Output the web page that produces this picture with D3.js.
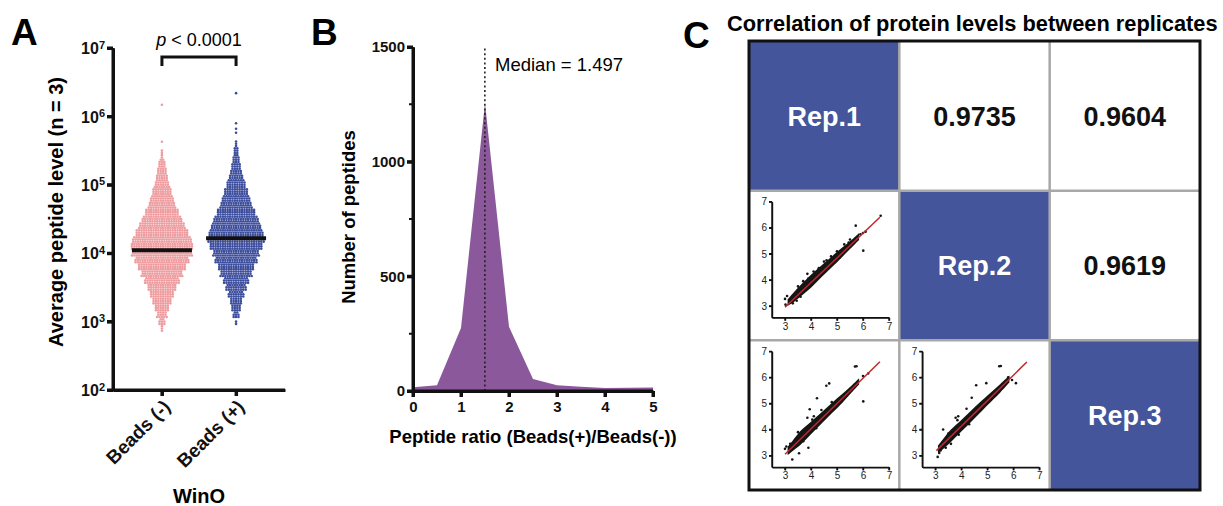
<!DOCTYPE html>
<html>
<head>
<meta charset="utf-8">
<script src="https://cdn.jsdelivr.net/npm/d3@7"></script>
<style>
body { margin: 0; background: #fff; }
svg { display: block; font-family: Arial, "Liberation Sans", sans-serif; color: #111; }
</style>
</head>
<body>
<svg id="fig" width="1223" height="506"></svg>
<script>
// ---- panel A data: beeswarm counts per log10 bin ----
const groups = ["Beads (-)", "Beads (+)"]
const binLog = [2.9, 3.0, 3.1, 3.2, 3.3, 3.4, 3.5, 3.6, 3.7, 3.8, 3.9, 4.0, 4.1, 4.2, 4.3, 4.4, 4.5, 4.6, 4.7, 4.8, 4.9, 5.0, 5.1, 5.2, 5.3, 5.4, 5.5, 5.6]
const countsMinus = [3, 8, 13, 18, 24, 30, 36, 44, 52, 60, 68, 76, 78, 74, 66, 58, 50, 42, 34, 29, 24, 19, 15, 12, 9, 4, 2, 0]
const countsPlus = [0, 2, 8, 12, 15, 20, 26, 32, 40, 45, 53, 58, 66, 71, 68, 62, 56, 48, 40, 35, 30, 24, 19, 14, 11, 8, 6, 3]
const outliersMinus = [5.63, 6.17]
const outliersPlus = [5.76, 5.82, 5.9, 6.34]
const medians = [1.1e4, 1.66e4]
const levelTicks = [1e2, 1e3, 1e4, 1e5, 1e6, 1e7]

// ---- panel B data ----
const ratioX = [0, 0.5, 1, 1.5, 2, 2.5, 3, 3.5, 4, 4.5, 5]
const ratioCount = [16, 25, 275, 1255, 280, 52, 25, 19, 13, 14, 15]
const ratioMedian = 1.497
const countTicks = [0, 500, 1000, 1500]
const countMinor = [250, 750, 1250]
const ratioTicks = [0, 1, 2, 3, 4, 5]

// ---- panel C data ----
const reps = ["Rep.1", "Rep.2", "Rep.3"]
const corrRow = [0, 0, 1]
const corrCol = [1, 2, 2]
const corrValue = ["0.9735", "0.9604", "0.9619"]

const scatterRow = [1, 2, 2]
const scatterCol = [0, 0, 1]
const bandX = [3.1, 3.3, 3.6, 4.0, 4.4, 4.8, 5.2, 5.5, 5.85]
const bandLo = [
  [3.0, 3.12, 3.36, 3.7, 4.1, 4.48, 4.88, 5.18, 5.53],
  [3.02, 3.18, 3.42, 3.82, 4.22, 4.62, 5.02, 5.35, 5.73],
  [3.08, 3.25, 3.52, 3.92, 4.32, 4.72, 5.12, 5.42, 5.8]
]
const bandHi = [
  [3.25, 3.48, 3.8, 4.2, 4.55, 4.9, 5.24, 5.48, 5.8],
  [3.33, 3.58, 3.95, 4.3, 4.65, 5.02, 5.36, 5.63, 5.97],
  [3.38, 3.64, 4.0, 4.37, 4.75, 5.12, 5.48, 5.75, 6.07]
]
const scatterPts = [
  [[3.0,3.27],[3.08,3.38],[3.02,3.05],[3.5,3.75],[3.86,4.23],[3.7,3.95],[4.1,4.32],[4.3,4.45],[4.6,4.75],[4.77,4.9],[5.0,5.1],[5.28,5.36],[5.45,5.43],[5.5,5.55],[5.72,6.08],[6.01,5.12],[6.0,5.8],[6.1,5.85],[6.68,6.46],[3.3,3.1],[3.45,3.2],[3.6,3.35],[4.2,4.0],[5.1,4.85],[5.9,5.75],[4.5,4.7],[3.9,4.05]],
  [[5.69,6.42],[5.75,6.43],[6.01,5.08],[4.59,5.68],[4.7,5.77],[4.23,5.2],[3.95,4.78],[3.86,4.45],[4.05,4.38],[4.11,4.51],[3.28,2.85],[3.54,3.09],[3.9,3.3],[3.0,3.26],[3.05,3.35],[3.5,3.9],[4.4,4.75],[4.8,5.05],[5.0,5.05],[5.3,5.35],[6.0,6.05],[6.2,6.15],[3.7,3.55],[4.2,4.05],[3.2,3.45],[5.6,5.6]],
  [[5.46,6.43],[5.52,6.44],[6.1,5.78],[4.96,5.78],[4.57,5.7],[4.4,5.22],[4.2,4.8],[3.78,4.45],[3.88,4.51],[3.85,4.36],[3.3,4.0],[3.09,2.95],[3.2,3.2],[3.15,3.1],[3.4,3.3],[3.6,3.45],[3.9,3.8],[4.1,4.3],[4.6,4.85],[5.0,5.2],[5.7,5.8],[5.8,6.0],[5.95,5.9],[3.5,3.85],[4.3,4.2]]
]
const fitLines = [
  [[3.0, 2.95], [6.65, 6.4]],
  [[3.0, 3.05], [6.65, 6.6]],
  [[3.04, 3.19], [6.52, 6.59]]
]
const insetTicks = [3, 4, 5, 6, 7]

const svg = d3.select("#fig")
svg.append("rect").attr("width", 1223).attr("height", 506).attr("fill", "#fff")

const axisJobs = []

function styleAxis(g, w) {
  g.select(".domain").attr("stroke", "#111").attr("stroke-width", w)
  g.selectAll(".tick line").attr("stroke", "#111").attr("stroke-width", w)
}

// axis line + ticks as one stroked path per axis, positioned from the scale
function axisPath(parent, orient, scale, vals, pos, size, w) {
  const r = scale.range()
  const lo = Math.min(r[0], r[r.length - 1]), hi = Math.max(r[0], r[r.length - 1])
  let d
  if (orient === "left") {
    d = `M${pos},${lo}V${hi}` + vals.map(v => `M${pos - size},${scale(v)}H${pos}`).join("")
  } else {
    d = `M${lo},${pos}H${hi}` + vals.map(v => `M${scale(v)},${pos}V${pos + size}`).join("")
  }
  parent.append("path").attr("d", d)
    .attr("fill", "none").attr("stroke", "#111").attr("stroke-width", w)
}

// panel letters
svg.append("text").attr("x", 11).attr("y", 45).text("A")
  .attr("font-size", 37).attr("font-weight", "bold")
svg.append("text").attr("x", 311).attr("y", 45).text("B")
  .attr("font-size", 37).attr("font-weight", "bold")
svg.append("text").attr("x", 683).attr("y", 48).text("C")
  .attr("font-size", 37).attr("font-weight", "bold")

// =============== A ===============
const xA = d3.scalePoint().domain(groups).range([113, 285]).padding(0.66)
const yA = d3.scaleLog().domain([1e2, 1e7]).range([390, 48])
const gA = svg.append("g")

function swarm(counts, outliers, group) {
  const dots = []
  const pitch = 2.4
  counts.forEach((c, i) => {
    const base = Math.floor(c / 3), extra = c % 3
    for (let r = 0; r < 3; r++) {
      const n = base + (r < extra ? 1 : 0)
      const lv = binLog[i] - 0.05 + (r + 0.5) * 0.1 / 3
      for (let k = 0; k < n; k++) {
        dots.push({ x: xA(group) + (k - (n - 1) / 2) * pitch, y: yA(Math.pow(10, lv)) })
      }
    }
  })
  outliers.forEach(v => dots.push({ x: xA(group), y: yA(Math.pow(10, v)) }))
  return dots
}

const swarmColors = ["#ee9da0", "#3d4e9d"]
const swarmData = [swarm(countsMinus, outliersMinus, groups[0]), swarm(countsPlus, outliersPlus, groups[1])]
swarmData.forEach((dots, i) => {
  gA.append("g").selectAll("circle").data(dots).join("circle")
    .attr("cx", d => d.x).attr("cy", d => d.y).attr("r", 1.3)
    .attr("fill", swarmColors[i])
})

gA.selectAll(".med").data(medians).join("line")
  .attr("x1", (d, i) => xA(groups[i]) - 30).attr("x2", (d, i) => xA(groups[i]) + 30)
  .attr("y1", d => yA(d)).attr("y2", d => yA(d))
  .attr("stroke", "#111").attr("stroke-width", 4)

const gyA = gA.append("g").attr("transform", "translate(113,0)")
  .call(d3.axisLeft(yA).tickValues(levelTicks).tickFormat(() => "").tickSize(6).tickSizeOuter(0))
styleAxis(gyA, 3)
const lbl = gyA.selectAll(".tick").append("text")
  .attr("x", -8).attr("dy", "0.35em").attr("text-anchor", "end")
  .attr("fill", "#111").attr("font-size", 16).attr("font-weight", "bold")
lbl.append("tspan").text("10")
lbl.append("tspan").attr("dy", "-0.5em").attr("font-size", 11).text(d => Math.round(Math.log10(d)))
axisJobs.push(["left", yA, levelTicks, 113, 6, 3])

const gxA = gA.append("g").attr("transform", "translate(0,390)")
  .call(d3.axisBottom(xA).tickFormat(() => "").tickSize(6).tickSizeOuter(0))
styleAxis(gxA, 3)
gxA.selectAll(".tick").append("text")
  .attr("transform", "translate(9,18) rotate(-45)")
  .attr("text-anchor", "end").attr("fill", "#111")
  .attr("font-size", 19).attr("font-weight", "bold")
  .text(d => d)
axisJobs.push(["bottom", xA, groups, 390, 6, 3])

gA.append("text").attr("transform", "translate(63,212) rotate(-90)")
  .attr("text-anchor", "middle").attr("font-size", 20).attr("font-weight", "bold")
  .text("Average peptide level (n = 3)")
gA.append("text").attr("x", 199).attr("y", 503)
  .attr("text-anchor", "middle").attr("font-size", 20).attr("font-weight", "bold")
  .text("WinO")

gA.append("path").attr("d", `M${xA(groups[0])},66V57H${xA(groups[1])}V66`)
  .attr("fill", "none").attr("stroke", "#111").attr("stroke-width", 3)
const pt = gA.append("text").attr("x", 199).attr("y", 46)
  .attr("text-anchor", "middle").attr("font-size", 18)
pt.append("tspan").attr("font-style", "italic").text("p")
pt.append("tspan").text(" < 0.0001")

// =============== B ===============
const xB = d3.scaleLinear().domain([0, 5]).range([413, 653])
const yB = d3.scaleLinear().domain([0, 1500]).range([391, 47])
const gB = svg.append("g")

const areaB = d3.area()
  .x((d, i) => xB(ratioX[i]))
  .y0(yB(0))
  .y1(d => yB(d))
gB.append("path").attr("d", areaB(ratioCount)).attr("fill", "#8b589c")

gB.append("line")
  .attr("x1", xB(ratioMedian)).attr("x2", xB(ratioMedian))
  .attr("y1", yB(0)).attr("y2", yB(1500))
  .attr("stroke", "#222").attr("stroke-width", 1.6).attr("stroke-dasharray", "2,2.6")
gB.append("text").attr("x", 495).attr("y", 71).attr("font-size", 18.5)
  .text("Median = " + ratioMedian)

const gyB = gB.append("g").attr("transform", "translate(413,0)")
  .call(d3.axisLeft(yB).tickValues(countTicks).tickFormat(d3.format("d")).tickSize(6).tickSizeOuter(0))
styleAxis(gyB, 3)
gyB.selectAll("text").attr("font-size", 15).attr("font-weight", "bold").attr("fill", "#111").attr("x", -8)
axisJobs.push(["left", yB, countTicks, 413, 6, 3])
axisJobs.push(["left", yB, countMinor, 413, 4, 2])

const gxB = gB.append("g").attr("transform", "translate(0,391)")
  .call(d3.axisBottom(xB).tickValues(ratioTicks).tickFormat(d3.format("d")).tickSize(6).tickSizeOuter(0))
styleAxis(gxB, 3)
gxB.selectAll("text").attr("font-size", 15).attr("font-weight", "bold").attr("fill", "#111").attr("y", 10)
axisJobs.push(["bottom", xB, ratioTicks, 391, 6, 3])

gB.append("text").attr("transform", "translate(355,217) rotate(-90)")
  .attr("text-anchor", "middle").attr("font-size", 18.5).attr("font-weight", "bold")
  .text("Number of peptides")
gB.append("text").attr("x", 533).attr("y", 443)
  .attr("text-anchor", "middle").attr("font-size", 18.5).attr("font-weight", "bold")
  .text("Peptide ratio (Beads(+)/Beads(-))")

// =============== C ===============
const gC = svg.append("g")
gC.append("text").attr("x", 727).attr("y", 31)
  .attr("font-size", 21.8).attr("font-weight", "bold")
  .text("Correlation of protein levels between replicates")

const cellX = d3.scaleBand().domain([0, 1, 2]).range([749, 1200])
const cellY = d3.scaleBand().domain([0, 1, 2]).range([41, 490])
const blue = "#44559b"

gC.selectAll(".diag").data(reps).join("rect")
  .attr("x", (d, i) => cellX(i)).attr("y", (d, i) => cellY(i))
  .attr("width", cellX.bandwidth()).attr("height", cellY.bandwidth())
  .attr("fill", blue)
gC.selectAll(".replbl").data(reps).join("text")
  .attr("x", (d, i) => cellX(i) + cellX.bandwidth() / 2)
  .attr("y", (d, i) => cellY(i) + cellY.bandwidth() / 2)
  .attr("dy", "0.36em").attr("text-anchor", "middle")
  .attr("fill", "#fff").attr("font-size", 27).attr("font-weight", "bold")
  .text(d => d)
gC.selectAll(".corr").data(corrValue).join("text")
  .attr("x", (d, i) => cellX(corrCol[i]) + cellX.bandwidth() / 2)
  .attr("y", (d, i) => cellY(corrRow[i]) + cellY.bandwidth() / 2)
  .attr("dy", "0.36em").attr("text-anchor", "middle")
  .attr("fill", "#111").attr("font-size", 27).attr("font-weight", "bold")
  .text(d => d)

// scatter insets
scatterRow.forEach((row, p) => {
  const x0 = cellX(scatterCol[p]), y0 = cellY(row)
  const sx = d3.scaleLinear().domain([2.5, 7]).range([x0 + 23, x0 + 140])
  const sy = d3.scaleLinear().domain([2.55, 7]).range([y0 + 127, y0 + 11])
  const g = gC.append("g")

  const band = d3.area().curve(d3.curveCatmullRom)
    .x(d => sx(d))
    .y0((d, i) => sy(bandLo[p][i]))
    .y1((d, i) => sy(bandHi[p][i]))
  g.append("path").attr("d", band(bandX)).attr("fill", "#151515")

  g.selectAll("circle").data(scatterPts[p]).join("circle")
    .attr("cx", d => sx(d[0])).attr("cy", d => sy(d[1])).attr("r", 1.3)
    .attr("fill", "#151515")

  g.append("path").attr("d", d3.line().x(d => sx(d[0])).y(d => sy(d[1]))(fitLines[p]))
    .attr("fill", "none").attr("stroke", "#c0282d").attr("stroke-width", 1.5)

  const ax = g.append("g").attr("transform", `translate(0,${y0 + 127})`)
    .call(d3.axisBottom(sx).tickValues(insetTicks).tickFormat(d3.format("d")).tickSize(3).tickSizeOuter(0).tickPadding(2))
  const ay = g.append("g").attr("transform", `translate(${x0 + 23},0)`)
    .call(d3.axisLeft(sy).tickValues(insetTicks).tickFormat(d3.format("d")).tickSize(3).tickSizeOuter(0).tickPadding(2))
  ;[ax, ay].forEach(a => {
    styleAxis(a, 1.4)
    a.selectAll("text").attr("font-size", 10).attr("fill", "#222")
  })
  axisJobs.push(["bottom", sx, insetTicks, y0 + 127, 3, 1.4])
  axisJobs.push(["left", sy, insetTicks, x0 + 23, 3, 1.4])
})

// grid lines
;[1, 2].forEach(i => {
  gC.append("line").attr("x1", cellX(i)).attr("x2", cellX(i)).attr("y1", 41).attr("y2", 490)
    .attr("stroke", "#a8a8a8").attr("stroke-width", 2.5)
  gC.append("line").attr("y1", cellY(i)).attr("y2", cellY(i)).attr("x1", 749).attr("x2", 1200)
    .attr("stroke", "#a8a8a8").attr("stroke-width", 2.5)
})
gC.append("rect").attr("x", 749).attr("y", 41).attr("width", 451).attr("height", 449)
  .attr("fill", "none").attr("stroke", "#111").attr("stroke-width", 3)

// axis lines last, as plain stroked paths like the bracket
axisJobs.forEach(j => axisPath(svg, ...j))
</script>
</body>
</html>
